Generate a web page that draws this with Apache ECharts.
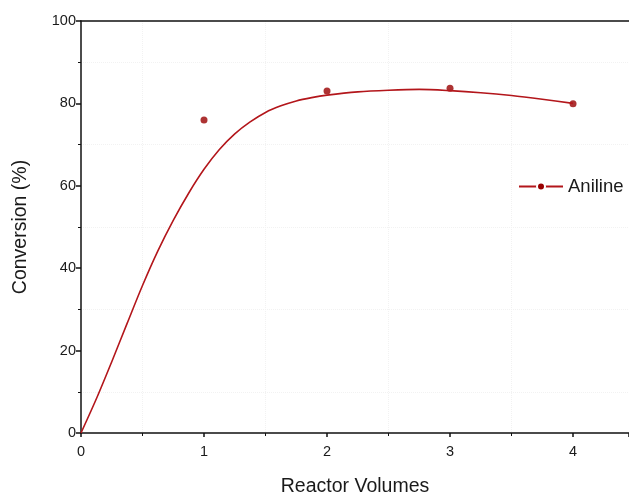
<!DOCTYPE html>
<html><head><meta charset="utf-8">
<script src="https://cdn.jsdelivr.net/npm/echarts@6/dist/echarts.min.js"></script>
<style>html,body{margin:0;padding:0;background:#fff}#c{width:629px;height:495px}</style>
</head><body><div id="c"></div>
<script>
// Measured data points
const pointX = [1, 2, 3, 4];
const pointY = [76.0, 83.0, 83.7, 79.9];
// Fitted curve
const curveX = [0, 0.125, 0.25, 0.375, 0.5, 0.625, 0.75, 0.875, 1.0, 1.125, 1.25, 1.375, 1.5, 1.625, 1.75, 1.875, 2.0, 2.25, 2.5, 2.75, 3.0, 3.25, 3.5, 3.75, 4.0];
const curveY = [0, 8.3, 17.3, 26.6, 35.8, 44.2, 51.6, 58.2, 64.0, 68.8, 72.6, 75.5, 77.8, 79.4, 80.6, 81.4, 82.0, 82.8, 83.2, 83.4, 83.1, 82.6, 81.9, 81.0, 80.0];
const seriesName = 'Aniline';
const xTitle = 'Reactor Volumes';
const yTitle = 'Conversion (%)';

const chart = echarts.init(document.getElementById('c'), null, {renderer: 'canvas'});
const font = 'Liberation Sans, Arial, sans-serif';
const txt = '#1a1a1a';
const axisCommon = {
  axisLine: {show: true, lineStyle: {color: '#111', width: 1.5}},
  splitLine: {show: false},
  minorTick: {show: true, splitNumber: 2, length: 3, lineStyle: {color: '#111', width: 1}},
  minorSplitLine: {show: true, lineStyle: {color: '#f2f2f2', type: 'dotted', width: 1}}
};
chart.setOption({
  animation: false,
  backgroundColor: '#fff',
  grid: {left: 81, top: 21, right: 0, bottom: 62, containLabel: false, outerBoundsMode: 'none'},
  legend: {
    data: [seriesName], left: 513, top: 172, itemWidth: 44, itemHeight: 10,
    textStyle: {fontSize: 18.5, fontFamily: font, color: txt}
  },
  xAxis: [Object.assign({}, axisCommon, {
    type: 'value', min: 0, max: 4.455, interval: 1,
    name: xTitle, nameLocation: 'middle', nameGap: 44,
    nameTextStyle: {fontSize: 19.5, fontFamily: font, color: txt},
    axisTick: {show: true, length: 4, lineStyle: {color: '#111', width: 1.5}},
    axisLabel: {color: txt, fontSize: 14.5, fontFamily: font, margin: 11, showMaxLabel: false}
  }), {
    type: 'value', position: 'top', min: 0, max: 4.455, interval: 1,
    axisLine: {show: true, onZero: false, lineStyle: {color: '#111', width: 1.5}},
    axisTick: {show: false}, axisLabel: {show: false}, splitLine: {show: false}
  }],
  yAxis: Object.assign({}, axisCommon, {
    type: 'value', min: 0, max: 100, interval: 20,
    name: yTitle, nameLocation: 'middle', nameGap: 50,
    nameTextStyle: {fontSize: 19.5, fontFamily: font, color: txt},
    axisTick: {show: true, length: 5, lineStyle: {color: '#111', width: 1.5}},
    axisLabel: {color: txt, fontSize: 14.5, fontFamily: font, margin: 5}
  }),
  series: [{
    name: seriesName, type: 'line', smooth: 0.3, symbol: 'circle', symbolSize: 7,
    showSymbol: false,
    itemStyle: {color: '#990000', borderColor: '#fff', borderWidth: 2},
    lineStyle: {color: '#b3161b', width: 1.6},
    data: curveX.map((x, i) => [x, curveY[i]])
  }, {
    name: 'pts', type: 'scatter', symbol: 'circle', symbolSize: 7,
    itemStyle: {color: '#990000'},
    data: pointX.map((x, i) => [x, pointY[i]])
  }]
});
</script></body></html>
